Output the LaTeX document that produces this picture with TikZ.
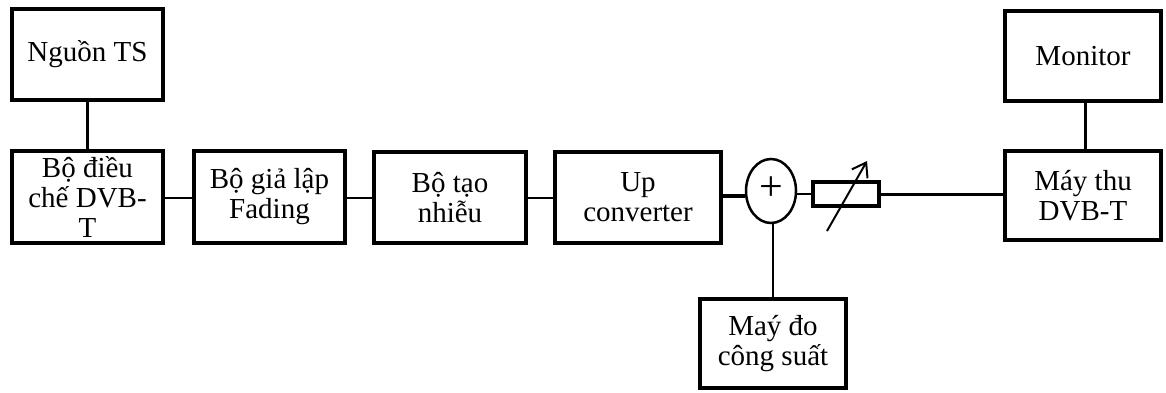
\documentclass[tikz,border=0pt]{standalone}
\usepackage{fontspec}
\setmainfont{Liberation Serif}
\usetikzlibrary{shapes.geometric,arrows.meta}
\begin{document}
\begin{tikzpicture}[x=1pt,y=-1pt,
  box/.style={draw, line width=4pt, align=center, inner sep=0pt,
    font=\fontsize{29}{30}\selectfont},
  conn/.style={line width=2.5pt},
  thickconn/.style={line width=4.5pt},
  sumnode/.style={draw, ellipse, line width=2.5pt, inner sep=0pt,
    minimum width=50pt, minimum height=64pt},
  resbox/.style={draw, line width=4pt, inner sep=0pt,
    minimum width=66pt, minimum height=24pt},
  varrow/.style={line width=2pt, -{Straight Barb[length=13pt,width=18pt,line width=2pt]}}]
\useasboundingbox (0,0) rectangle (1166,392);
\fill[white] (0,0) rectangle (1166,392);

\node[box, minimum width=151pt, minimum height=91pt] (nguon) at (87.5,54.5) {Nguồn TS};
\node[box, minimum width=151pt, minimum height=92pt] (dieuche) at (87.5,197) {Bộ điều\\chế DVB-\\T};
\node[box, minimum width=151pt, minimum height=92pt] (fading) at (269.5,197) {Bộ giả lập\\Fading};
\node[box, minimum width=152pt, minimum height=91pt] (nhieu) at (450,197.5) {Bộ tạo\\nhiễu};
\node[box, minimum width=166pt, minimum height=91pt] (upconv) at (638,197.5) {Up\\converter};
\node[sumnode] (sum) at (771,191) {};
\node[font=\fontsize{42}{42}\selectfont, inner sep=0pt] (plus) at (771,189) {+};
\node[resbox] (res) at (846,194) {};
\node[box, minimum width=156pt, minimum height=89pt] (maythu) at (1083,195.5) {Máy thu\\DVB-T};
\node[box, minimum width=156pt, minimum height=90pt] (monitor) at (1083,56) {Monitor};
\node[box, minimum width=146pt, minimum height=89pt] (maydo) at (773,343.5) {Maý đo\\công suất};

\coordinate (arrS) at (827,231);
\coordinate (arrE) at (867,161);

\draw[conn] (nguon.south) -- (dieuche.north);
\draw[conn] (dieuche.east |- 0,198) -- (fading.west |- 0,198);
\draw[conn] (fading.east |- 0,198) -- (nhieu.west |- 0,198);
\draw[conn] (nhieu.east |- 0,198) -- (upconv.west |- 0,198);
\draw[thickconn] (upconv.east |- 0,196) -- (sum.west |- 0,196);
\draw[conn] (sum.east |- res.west) -- (res.west);
\draw[line width=3pt] (res.east) -- (res.east -| maythu.west);
\draw[conn] (sum.south -| maydo.north) -- (maydo.north);
\draw[line width=3pt] (monitor.south -| 1085,0) -- (maythu.north -| 1085,0);
\draw[varrow] (arrS) -- (arrE);
\end{tikzpicture}
\end{document}
